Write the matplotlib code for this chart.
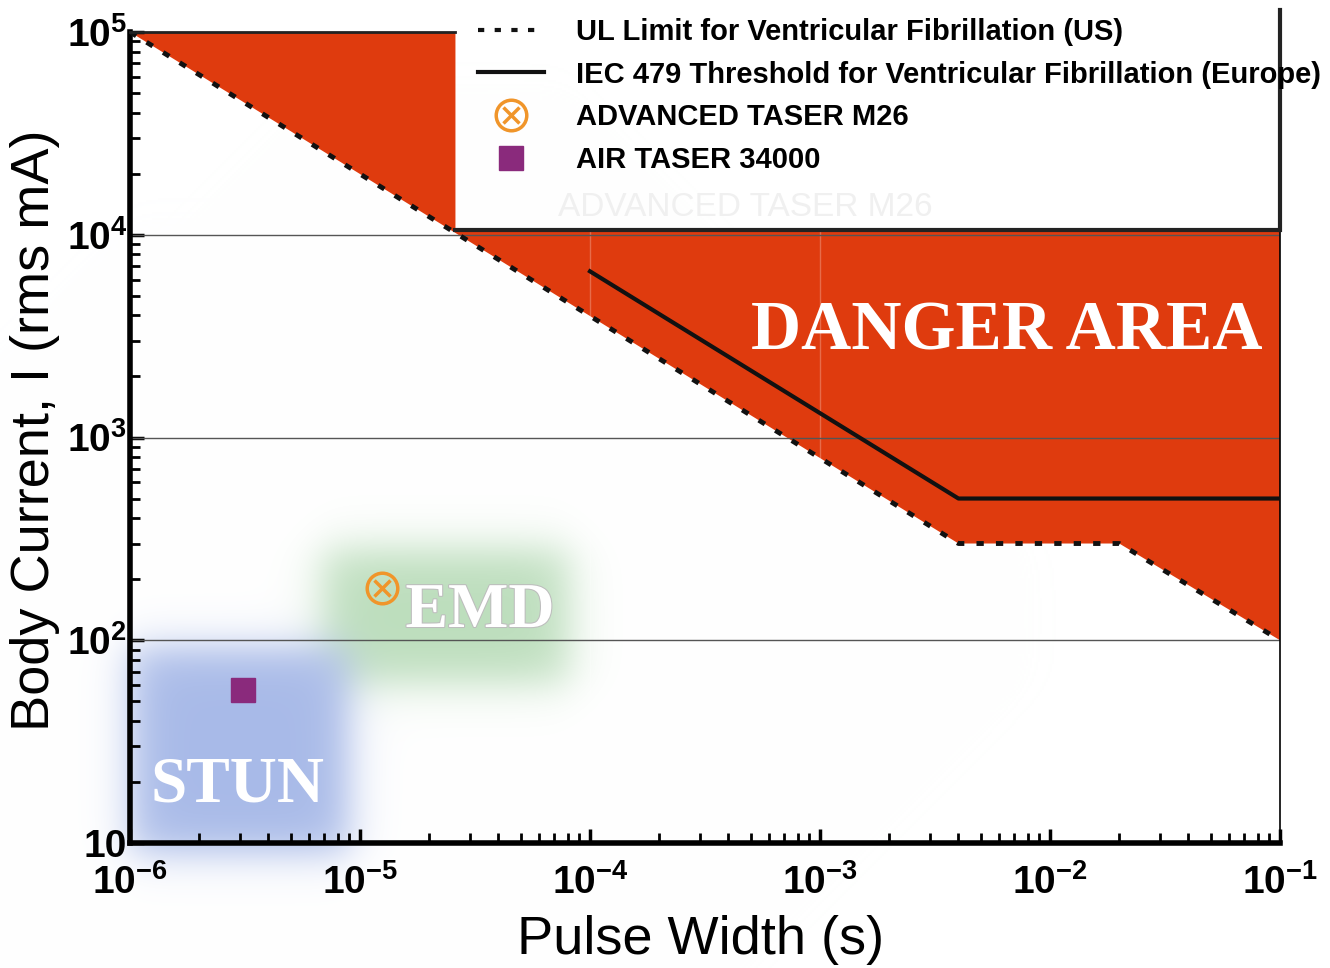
import numpy as np
import matplotlib
matplotlib.use("Agg")
import matplotlib.pyplot as plt
import matplotlib.patheffects as pe
from matplotlib.lines import Line2D
from matplotlib.legend_handler import HandlerTuple

plt.rcParams["font.family"] = ["Liberation Sans", "DejaVu Sans"]
plt.rcParams["mathtext.fontset"] = "custom"
plt.rcParams["mathtext.rm"] = "Liberation Sans:bold"
plt.rcParams["mathtext.bf"] = "Liberation Sans:bold"
plt.rcParams["mathtext.it"] = "Liberation Sans:bold"

# UL limit (US) - dashed
ul_x = [1e-6, 4e-3, 2e-2, 1e-1]
ul_y = [1e5, 300, 300, 100]

# IEC 479 threshold (Europe) - solid
iec_x = [1e-4, 4e-3, 1e-1]
iec_y = [6600, 500, 500]

# upper edge of danger area (from right, going left)
top_x = [1e-1, 1e-1, 2.6e-5, 2.6e-5, 1e-6]
top_y = [100, 1.05e4, 1.05e4, 1e5, 1e5]

# devices
m26_x = [1.25e-5]
m26_y = [182]
air_x = [3.1e-6]
air_y = [57]

x_ticks = [1e-6, 1e-5, 1e-4, 1e-3, 1e-2, 1e-1]
x_labels = [r"$\mathbf{10^{-6}}$", r"$\mathbf{10^{-5}}$", r"$\mathbf{10^{-4}}$",
            r"$\mathbf{10^{-3}}$", r"$\mathbf{10^{-2}}$", r"$\mathbf{10^{-1}}$"]
y_ticks = [10, 1e2, 1e3, 1e4, 1e5]
y_labels = ["10", r"$\mathbf{10^{2}}$", r"$\mathbf{10^{3}}$",
            r"$\mathbf{10^{4}}$", r"$\mathbf{10^{5}}$"]
grid_y = [1e2, 1e3, 1e4]

RED = "#df3b0e"
ORANGE = "#f0952a"
PURPLE = "#8a2a7c"

W, H = 1330, 968
fig = plt.figure(figsize=(W / 100, H / 100), dpi=100)

# soft coloured glows behind the chart (figure pixel coords)
bg = fig.add_axes([0, 0, 1, 1], zorder=-1)
bg.set_axis_off()
yy, xx = np.mgrid[0:H:2, 0:W:2].astype(float)


def soft_box(x0, x1, y0, y1, s):
    sx = 1 / (1 + np.exp(-(xx - x0) / s)) / (1 + np.exp((xx - x1) / s))
    sy = 1 / (1 + np.exp(-(yy - y0) / s)) / (1 + np.exp((yy - y1) / s))
    return sx * sy


img = np.ones(yy.shape + (3,))
for (x0, x1, y0, y1, s), col in [((322, 568, 548, 682, 13), (0.74, 0.87, 0.74)),
                                 ((130, 348, 646, 852, 12), (0.66, 0.73, 0.91))]:
    a = soft_box(x0, x1, y0, y1, s)[..., None]
    img = img * (1 - a) + np.array(col) * a
bg.imshow(img, extent=[0, W, H, 0], aspect="auto", interpolation="bilinear")
bg.set_xlim(0, W)
bg.set_ylim(H, 0)

ax = fig.add_axes([130 / W, 1 - 843 / H, 1150 / W, 811 / H])
ax.set_facecolor("none")
ax.set_xscale("log")
ax.set_yscale("log")

# danger area
ax.fill(ul_x + top_x, ul_y + top_y, color=RED, lw=0, zorder=1)

for v in [1e-4, 1e-3]:
    ax.axvline(v, color="white", alpha=0.25, lw=1, zorder=1.5)
for v in grid_y:
    ax.axhline(v, color="#555555", lw=1, zorder=2)

ax.plot(ul_x, ul_y, color="#111111", lw=3.5, ls=(0, (1.5, 2.5)), zorder=4)
ax.plot(iec_x, iec_y, color="#111111", lw=3, zorder=4)
ax.plot(top_x[1:3], top_y[1:3], color="#222222", lw=3, zorder=4)
ax.plot(top_x[3:], top_y[3:], color="#222222", lw=2, zorder=4, clip_on=False)
ax.plot([1e-1, 1e-1], [1.05e4, 1.28e5], color="#222222", lw=3, zorder=4, clip_on=False)

ax.plot(m26_x, m26_y, "o", ms=22, mfc="none", mec=ORANGE, mew=2.5, zorder=5)
ax.plot(m26_x, m26_y, "x", ms=11, mec=ORANGE, mew=2.5, zorder=5)
ax.plot(air_x, air_y, "s", ms=17, color=PURPLE, zorder=5)

ax.set_xlim(1e-6, 1e-1)
ax.set_ylim(10, 1e5)
ax.set_xticks(x_ticks)
ax.set_xticklabels(x_labels)
ax.set_yticks(y_ticks)
ax.set_yticklabels(y_labels)
for t in ax.get_xticklabels() + ax.get_yticklabels():
    t.set_fontsize(28)
    t.set_fontweight("bold")
ax.tick_params(which="major", direction="in", length=10, width=2.5)
ax.tick_params(which="minor", direction="in", length=7, width=2)
ax.tick_params(axis="x", pad=15)
ax.tick_params(axis="y", pad=2)

ax.spines["top"].set_visible(False)
ax.spines["right"].set_linewidth(1.2)
ax.spines["left"].set_linewidth(4)
ax.spines["bottom"].set_linewidth(4)

ax.set_xlabel("Pulse Width (s)", fontsize=39, va="center")
ax.set_ylabel("Body Current, I (rms mA)", fontsize=39, va="center")
ax.xaxis.set_label_coords(0.496, -0.12)
ax.yaxis.set_label_coords(-0.083, 0.509)

# region labels
fig.text(1007 / W, 1 - 332 / H, "DANGER AREA", fontsize=50, color="white",
         family="Liberation Serif", weight="bold", ha="center", va="center")
fig.text(480 / W, 1 - 612 / H, "EMD", fontsize=46, color="white",
         family="Liberation Serif", weight="bold", ha="center", va="center",
         path_effects=[pe.withStroke(linewidth=1.5, foreground="#bdbdbd")])
fig.text(237 / W, 1 - 785 / H, "STUN", fontsize=47, color="white",
         family="Liberation Serif", weight="bold", ha="center", va="center")
fig.text(745 / W, 1 - 207 / H, "ADVANCED TASER M26", fontsize=24, color="#f0f0f0",
         ha="center", va="center")

handles = [
    Line2D([], [], color="#111111", lw=3, ls=(0, (1.5, 2.5))),
    Line2D([], [], color="#111111", lw=3),
    (Line2D([], [], marker="o", ms=22, mfc="none", mec=ORANGE, mew=2.5, ls="none"),
     Line2D([], [], marker="x", ms=11, mec=ORANGE, mew=2.5, ls="none")),
    Line2D([], [], marker="s", ms=17, color=PURPLE, ls="none"),
]
labels = ["UL Limit for Ventricular Fibrillation (US)",
          "IEC 479 Threshold for Ventricular Fibrillation (Europe)",
          "ADVANCED TASER M26",
          "AIR TASER 34000"]
ax.legend(handles, labels, loc="upper left", bbox_to_anchor=(478 / W, 1 - 18 / H),
          bbox_transform=fig.transFigure, frameon=False, borderpad=0,
          borderaxespad=0, handlelength=2.25, handletextpad=1.1, labelspacing=0.5,
          prop={"weight": "bold", "size": 21},
          handler_map={tuple: HandlerTuple(ndivide=1, pad=0)})

fig.savefig("out.png", dpi=100)
